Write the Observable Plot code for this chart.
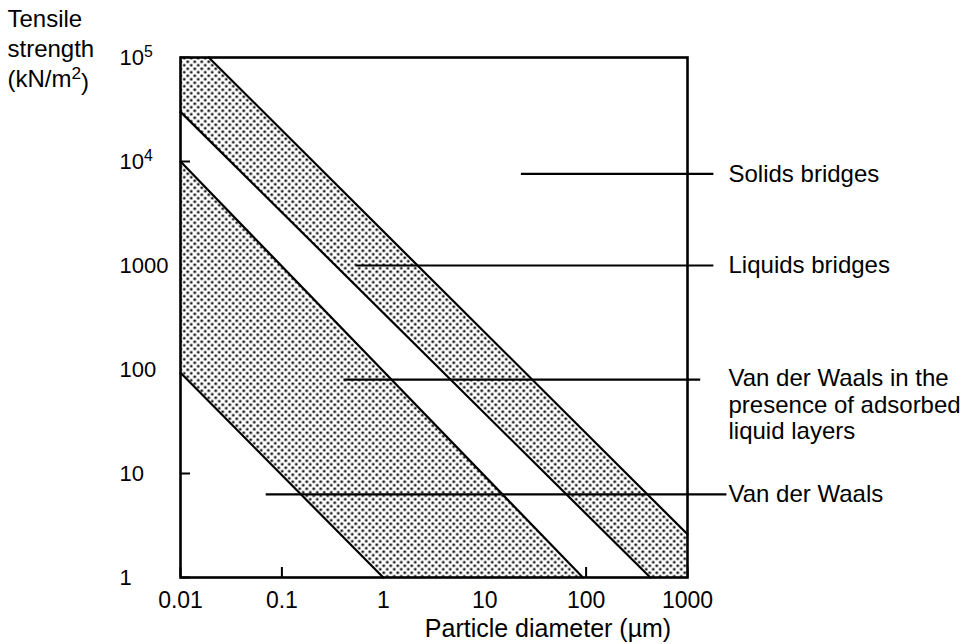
<!DOCTYPE html>
<html><head><meta charset="utf-8">
<script src="https://cdn.jsdelivr.net/npm/d3@7"></script>
<script src="https://cdn.jsdelivr.net/npm/@observablehq/plot@0.6"></script>
<style>
body{margin:0;background:#fff}
#chart svg{font-family:"Liberation Sans",Arial,Helvetica,sans-serif;background:#fff}
</style>
</head><body><div id="chart"></div><script>
// Axis ticks
const xTicks = [0.01, 0.1, 1, 10, 100, 1000];
const xTickLabels = ["0.01", "0.1", "1", "10", "100", "1000"];
const yTicks = [1, 10, 100, 1000, 1e4, 1e5];
const yTickLabels = ["1", "10", "100", "1000", "10^4", "10^5"];

// Shaded bands (corner points: [diameter µm, tensile kN/m2])
const lowerBand = [[0.01, 93], [0.01, 1e4], [93, 1], [1, 1]];
const upperBand = [[0.01, 3e4], [0.01, 1e5], [0.019, 1e5], [1000, 2.6], [1000, 1], [430, 1]];

// Band boundary lines
const boundaryA = [[0.01, 93], [1, 1]];
const boundaryB = [[0.01, 1e4], [93, 1]];
const boundaryC = [[0.01, 3e4], [430, 1]];
const boundaryD = [[0.019, 1e5], [1000, 2.6]];

// Annotation leaders
const labelNames = ["Solids bridges", "Liquids bridges", "Van der Waals in the\npresence of adsorbed\nliquid layers", "Van der Waals"];
const labelY = [7600, 1000, 80, 6.3];
const leaderFrom = [23, 0.54, 0.41, 0.07];
const leaderTo = [1820, 1820, 1350, 2450];

const yLabelLines = "Tensile\nstrength\n(kN/m^2)";
const xTitle = "Particle diameter (\u00b5m)";

const leaders = labelNames.map((name, i) => ({name, y: labelY[i], x1: leaderFrom[i], x2: leaderTo[i]}));
const singleLabels = leaders.filter(d => !d.name.includes("\n"));
const multiLabels = leaders.filter(d => d.name.includes("\n"));
const pt = {x: d => d[0], y: d => d[1]};

const chart = Plot.plot({
  width: 972,
  height: 644,
  marginLeft: 180,
  marginRight: 285,
  marginTop: 57,
  marginBottom: 67,
  style: {fontSize: "22px", fontFamily: "Liberation Sans, Arial, sans-serif", color: "#000", background: "#fff"},
  x: {type: "log", domain: [0.01, 1000]},
  y: {type: "log", domain: [1, 1e5]},
  marks: [
    Plot.axisX({ticks: xTicks, tickSize: -10, tickFormat: () => "", strokeWidth: 2, label: null}),
    Plot.axisY({ticks: yTicks, tickSize: -10, tickFormat: () => "", strokeWidth: 2, label: null}),
    Plot.line(lowerBand, {...pt, fill: "url(#dots)", stroke: "none"}),
    Plot.line(upperBand, {...pt, fill: "url(#dots)", stroke: "none"}),
    ...[boundaryA, boundaryB, boundaryC, boundaryD].map(b => Plot.line(b, {...pt, stroke: "#000", strokeWidth: 2.2})),
    Plot.ruleY(leaders, {y: "y", x1: "x1", x2: "x2", stroke: "#000", strokeWidth: 2.2}),
    Plot.frame({stroke: "#000", strokeWidth: 2.6}),
    Plot.text(xTicks, {x: d => d, text: (d, i) => xTickLabels[i], frameAnchor: "bottom", lineAnchor: "top", dy: 14, fontSize: 23, fill: "#000"}),
    Plot.text(yTicks, {y: d => d, text: (d, i) => yTickLabels[i], frameAnchor: "left", textAnchor: "start", dx: -61, fontSize: 22, fill: "#000"}),
    Plot.text(singleLabels, {y: "y", text: "name", frameAnchor: "right", textAnchor: "start", dx: 41, fontSize: 24, fill: "#000"}),
    Plot.text(multiLabels, {y: "y", text: "name", frameAnchor: "right", textAnchor: "start", lineAnchor: "top", dx: 41, dy: -13, lineHeight: 1.12, fontSize: 24, fill: "#000"}),
    Plot.text([xTitle], {text: d => d, frameAnchor: "bottom", lineAnchor: "top", dx: 114, dy: 42, fontSize: 25, fill: "#000"}),
    Plot.text([yLabelLines], {text: d => d, frameAnchor: "top-left", textAnchor: "start", lineAnchor: "top", dx: -173, dy: -52, lineHeight: 1.25, fontSize: 24, fill: "#000"})
  ]
});

// dotted fill pattern
const svg = d3.select(chart);
const defs = svg.insert("defs", ":first-child");
const pat = defs.append("pattern").attr("id", "dots").attr("patternUnits", "userSpaceOnUse")
  .attr("width", 7).attr("height", 7);
pat.append("rect").attr("width", 7).attr("height", 7).attr("fill", "#fff");
pat.append("circle").attr("cx", 1.75).attr("cy", 1.75).attr("r", 1.35).attr("fill", "#000");
pat.append("circle").attr("cx", 5.25).attr("cy", 5.25).attr("r", 1.35).attr("fill", "#000");

// superscripts written as a^b
svg.selectAll("text, tspan").each(function() {
  if (this.children.length) return;
  const t = this.textContent;
  const m = t.match(/^(.*)\^(\d)(.*)$/);
  if (!m) return;
  const el = d3.select(this);
  el.text(m[1]);
  el.append("tspan").attr("dy", "-0.45em").attr("font-size", "0.72em").text(m[2]);
  if (m[3]) el.append("tspan").attr("dy", "0.45em").text(m[3]);
});

document.getElementById("chart").appendChild(chart);
</script></body></html>
